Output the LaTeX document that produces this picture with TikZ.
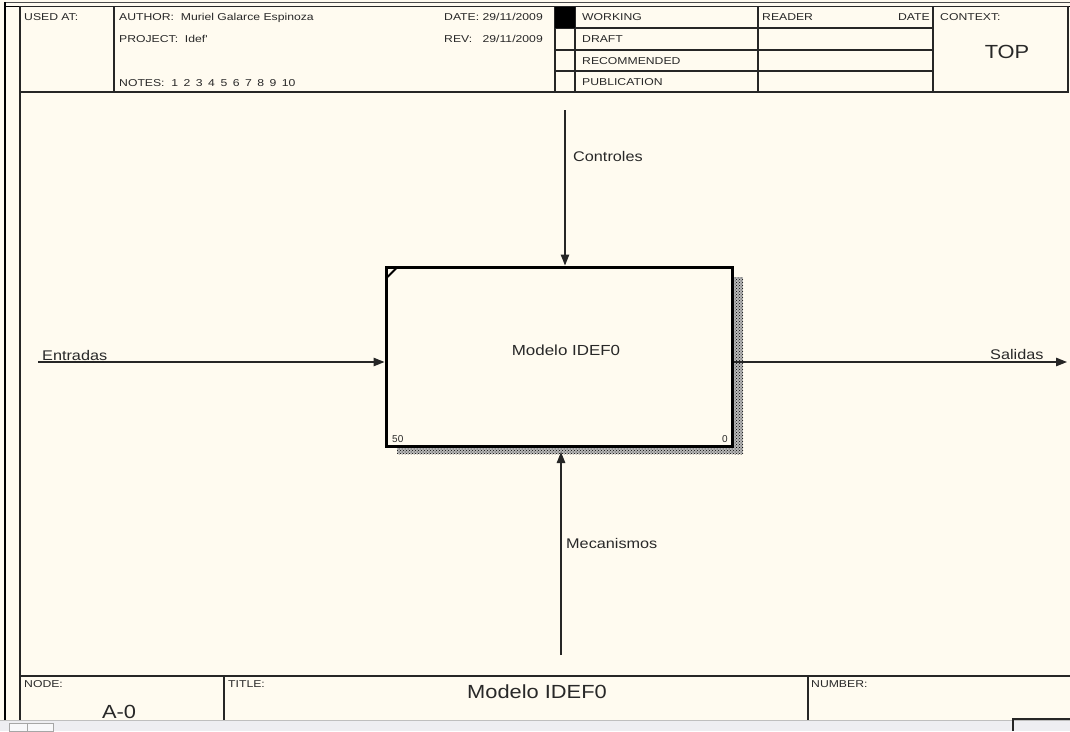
\documentclass[tikz,border=0pt]{standalone}
\usepackage{fontspec}
\setmainfont{Liberation Sans}
\newfontfamily\hdrfont[FakeStretch=1.22]{Liberation Sans}
\newfontfamily\lblfont[FakeStretch=1.16]{Liberation Sans}
\newfontfamily\bigfont[FakeStretch=1.15]{Liberation Sans}
\usetikzlibrary{arrows.meta,patterns}
\definecolor{paper}{RGB}{255,251,240}
\definecolor{barbg}{RGB}{238,238,242}
\definecolor{ink}{RGB}{40,40,40}
\begin{document}
\begin{tikzpicture}[x=1pt,y=-1pt,
  hdr/.style={font=\hdrfont\fontsize{10}{12}\selectfont, text=ink, inner sep=0pt, anchor=west, text height=7.2pt, text depth=0pt},
  lbl/.style={font=\lblfont\fontsize{14}{16}\selectfont, text=ink, inner sep=0pt, anchor=west, text height=10pt, text depth=0pt},
  big/.style={font=\bigfont\fontsize{19}{22}\selectfont, text=ink, inner sep=0pt, text height=13.6pt, text depth=0pt},
  rule/.style={line width=1.1pt, black!85},
  arr/.style={line width=1.2pt, black!85, -{Triangle[length=11pt,width=8.5pt]}},
  shadow/.style={fill=black!28, postaction={pattern=crosshatch dots, pattern color=black}},
]
\useasboundingbox (0,0) rectangle (1070,731);
\fill[paper] (0,0) rectangle (1070,731);

% outer frame
\draw[line width=1.2pt, black!70] (5,2.5) -- (1070,2.5);
\draw[line width=1.6pt, black] (5,2) -- (5,720);
\draw[rule] (20,6.5) -- (20,720);

% header
\draw[line width=1.4pt, black] (5,6.5) -- (1070,6.5);
\draw[rule] (20,6.5) rectangle (1068,92);
\draw[rule] (114,6.5) -- (114,92);
\draw[rule] (555,6.5) -- (555,92);
\draw[rule] (575,6.5) -- (575,92);
\draw[rule] (758,6.5) -- (758,92);
\draw[rule] (933,6.5) -- (933,92);
\draw[rule] (555,28) -- (933,28);
\draw[rule] (555,50) -- (933,50);
\draw[rule] (555,71) -- (933,71);
\fill[black] (555,6.5) rectangle (575,28);

\node[hdr] (usedat) at (24,17) {USED AT:};
\node[hdr] (author) at (119,17) {AUTHOR:\ \ Muriel Galarce Espinoza};
\node[hdr] (project) at (119,38.5) {PROJECT:\ \ Idef'};
\node[hdr] (notes) at (119,83) {NOTES:\ \ 1\hspace{5.5pt}2\hspace{5.5pt}3\hspace{5.5pt}4\hspace{5.5pt}5\hspace{5.5pt}6\hspace{5.5pt}7\hspace{5.5pt}8\hspace{5.5pt}9\hspace{5.5pt}10};
\node[hdr] (datel) at (444,17) {DATE:};
\node[hdr, anchor=east] (datev) at (543,17) {29/11/2009};
\node[hdr] (revl) at (444,38.5) {REV:};
\node[hdr, anchor=east] (revv) at (543,38.5) {29/11/2009};
\node[hdr] (working) at (582,17) {WORKING};
\node[hdr] (draft) at (582,39) {DRAFT};
\node[hdr] (recom) at (582,60.5) {RECOMMENDED};
\node[hdr] (publ) at (582,81.5) {PUBLICATION};
\node[hdr] (reader) at (762,17) {READER};
\node[hdr, anchor=east] (rdate) at (930,17) {DATE};
\node[hdr] (context) at (940,17) {CONTEXT:};
\node[big] (top) at (1007,52) {TOP};

% activity box with shadow
\path[shadow] (733,277) rectangle (743,454);
\path[shadow] (397,447.5) rectangle (743,454);
\node[draw=black, line width=3pt, fill=paper, minimum width=346pt, minimum height=179pt, inner sep=0pt] (box) at (559,356.5) {};
\draw[line width=2pt] (387.5,277) -- (397,267.5);
\node[font=\lblfont\fontsize{14.6}{17}\selectfont, text=ink, inner sep=0pt, text height=10.5pt, text depth=0pt] (boxtitle) at (566,350) {Modelo IDEF0};
\node[font=\fontsize{10}{12}\selectfont, text=ink, inner sep=0pt, anchor=west] (num50) at (392,439) {50};
\node[font=\fontsize{10}{12}\selectfont, text=ink, inner sep=0pt, anchor=east] (num0) at (728,439) {0};

% connectors
\coordinate (cin) at (565,110);
\coordinate (ein) at (38,362);
\coordinate (sout) at (1067,362);
\coordinate (min) at (561,655);
\coordinate (mend) at (561,452);
\draw[arr] (cin) -- (cin |- box.north);
\draw[arr] (ein) -- (ein -| box.west);
\draw[arr] (sout -| box.east) -- (sout);
\draw[arr] (min) -- (mend);

\node[lbl] (controles) at (573,156) {Controles};
\node[lbl] (entradas) at (42,355) {Entradas};
\node[lbl] (salidas) at (990,354) {Salidas};
\node[lbl] (mecanismos) at (566,543) {Mecanismos};

% footer
\draw[rule] (20,676) -- (1070,676);
\draw[rule] (224,676) -- (224,720);
\draw[rule] (808,676) -- (808,720);
\node[hdr] (nodel) at (24,684) {NODE:};
\node[hdr] (titlel) at (228,684) {TITLE:};
\node[hdr] (numberl) at (811,684) {NUMBER:};
\node[big] (ftitle) at (537,692) {Modelo IDEF0};
\node[big] (nodeid) at (119,712) {A-0};

% window bar
\fill[barbg] (0,720) rectangle (1070,731);
\draw[black!25, line width=0.6pt] (0,720) -- (1070,720);
\draw[black!35, line width=0.6pt, fill=white!60!barbg] (9,723) rectangle (27,731);
\draw[black!35, line width=0.6pt, fill=white!60!barbg] (27,723) rectangle (53,731);
\draw[line width=1.5pt, black!85] (1013,731) -- (1013,719) -- (1070,719);
\end{tikzpicture}
\end{document}
